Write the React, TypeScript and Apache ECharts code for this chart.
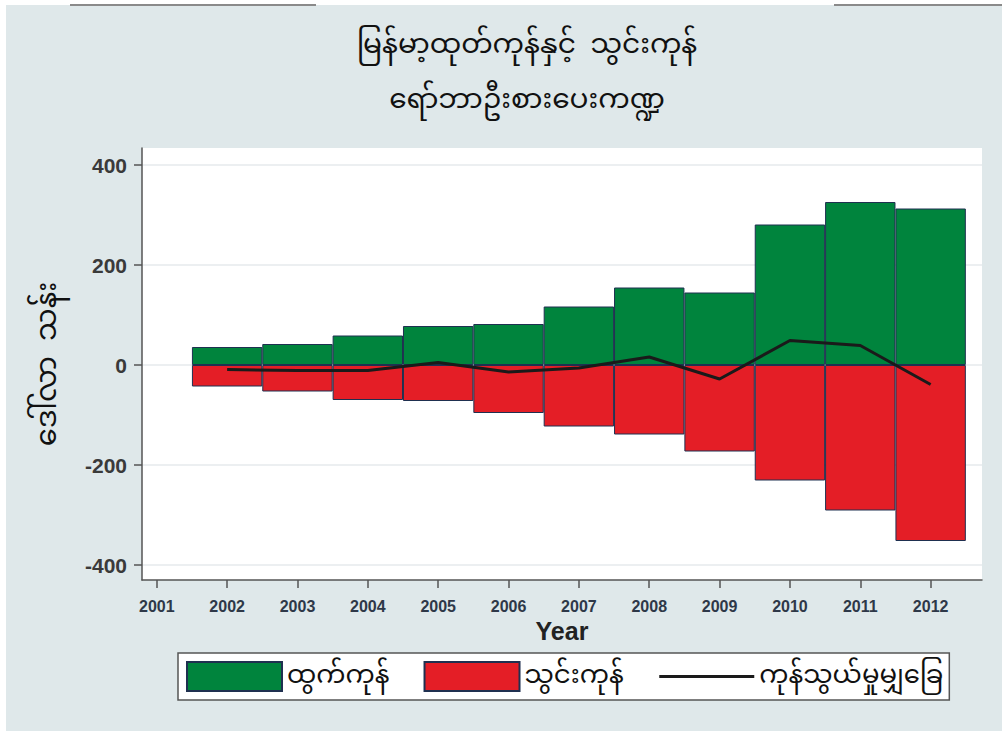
import React, { useEffect, useRef } from "react";
import * as echarts from "echarts";

const years = [2002, 2003, 2004, 2005, 2006, 2007, 2008, 2009, 2010, 2011, 2012];
const exportsVals = [36, 42, 59, 78, 82, 117, 155, 145, 281, 326, 313];
const importsVals = [-43, -53, -70, -72, -96, -123, -139, -173, -231, -291, -352];
const balanceVals = [-9, -11, -11, 5, -14, -6, 16, -28, 49, 39, -39];
const xTicks = [2001, 2002, 2003, 2004, 2005, 2006, 2007, 2008, 2009, 2010, 2011, 2012];
const yTicks = [-400, -200, 0, 200, 400];

const titleLine1 = "မြန်မာ့ထုတ်ကုန်နှင့်  သွင်းကုန်";
const titleLine2 = "ရော်ဘာဦးစားပေးကဏ္ဍ";
const yName = "ဒေါ်လာ  သန်း";
const xName = "Year";
const nameExports = "ထွက်ကုန်";
const nameImports = "သွင်းကုန်";
const nameBalance = "ကုန်သွယ်မှုမျှခြေ";

const MY_FONT = "'Noto Sans Myanmar', 'Padauk', 'Myanmar Text', 'Noto Sans', sans-serif";
const NARROW = "'Liberation Sans Narrow', 'Arial Narrow', 'Liberation Sans', sans-serif";

export default function App() {
  const ref = useRef<HTMLDivElement>(null);
  useEffect(() => {
    if (!ref.current) return;
    const chart = echarts.init(ref.current, null, { renderer: "svg" });
    chart.setOption({
      animation: false,
      backgroundColor: "#ffffff",
      graphic: [
        { type: "rect", shape: { x: 6, y: 5, width: 996, height: 726 }, style: { fill: "#dfe8ea" }, z: -10 },
        { type: "line", shape: { x1: 70, y1: 5, x2: 316, y2: 5 }, style: { stroke: "#8a8a8a", lineWidth: 2 } },
        { type: "line", shape: { x1: 834, y1: 5, x2: 1002, y2: 5 }, style: { stroke: "#8a8a8a", lineWidth: 2 } },
        {
          type: "text", x: 527, y: 46,
          style: { text: titleLine1, fontFamily: MY_FONT, fontSize: 28, lineHeight: 40, fill: "#111", align: "center", verticalAlign: "middle" },
        },
        {
          type: "text", x: 527, y: 101,
          style: { text: titleLine2, fontFamily: MY_FONT, fontSize: 28, lineHeight: 40, fill: "#111", align: "center", verticalAlign: "middle" },
        },
      ],
      grid: { left: 142, top: 148, right: 20, bottom: 151, show: true, backgroundColor: "#ffffff", borderWidth: 0, containLabel: false },
      xAxis: {
        type: "value",
        min: 2000.79,
        max: 2012.73,
        name: xName,
        nameLocation: "middle",
        nameGap: 29,
        nameTextStyle: { fontFamily: NARROW, fontSize: 25, color: "#222", fontWeight: "bold" },
        axisLine: { show: true, onZero: false, lineStyle: { color: "#555", width: 1.5 } },
        axisTick: { show: true, length: 8, lineStyle: { color: "#555", width: 1.5 }, customValues: xTicks },
        axisLabel: { customValues: xTicks, fontFamily: NARROW, fontWeight: "bold", fontSize: 16, color: "#2e3848", margin: 18, formatter: (v: number) => String(v) },
        splitLine: { show: false },
      },
      yAxis: {
        type: "value",
        min: -430,
        max: 434,
        name: yName,
        nameLocation: "middle",
        nameGap: 78,
        nameRotate: 90,
        nameTextStyle: { fontFamily: MY_FONT, fontSize: 29, color: "#111" },
        axisLine: { show: true, onZero: false, lineStyle: { color: "#555", width: 1.5 } },
        axisTick: { show: true, length: 8, lineStyle: { color: "#555", width: 1.5 }, customValues: yTicks },
        axisLabel: { customValues: yTicks, fontFamily: "'Liberation Sans', Arial, sans-serif", fontSize: 21, fontWeight: "bold", color: "#3a3a3a", margin: 15 },
        splitLine: { show: true, lineStyle: { color: "#e6eaec", width: 1.5 } },
      },
      legend: {
        left: 178,
        top: 653,
        orient: "horizontal",
        itemWidth: 95,
        itemHeight: 29,
        itemGap: 34,
        padding: [8, 6, 8, 8],
        borderColor: "#555",
        borderWidth: 1.5,
        backgroundColor: "#ffffff",
        textStyle: { fontFamily: MY_FONT, fontSize: 26, color: "#111" },
        data: [
          { name: nameExports, icon: "rect" },
          { name: nameImports, icon: "rect" },
          { name: nameBalance, itemStyle: { opacity: 0 }, lineStyle: { color: "#1a1a1a", width: 3 } },
        ],
      },
      series: [
        {
          name: nameExports,
          type: "bar",
          stack: "t",
          barWidth: 70.4,
          data: years.map((y, i) => [y, exportsVals[i]]),
          itemStyle: { color: "#00843d", borderColor: "#1f3050", borderWidth: 1 },
        },
        {
          name: nameImports,
          type: "bar",
          stack: "t",
          barWidth: 70.4,
          data: years.map((y, i) => [y, importsVals[i]]),
          itemStyle: { color: "#e41e26", borderColor: "#1f3050", borderWidth: 1 },
        },
        {
          name: nameBalance,
          type: "line",
          symbol: "none",
          z: 5,
          data: years.map((y, i) => [y, balanceVals[i]]),
          lineStyle: { color: "#1a1a1a", width: 3 },
          itemStyle: { color: "#1a1a1a" },
        },
      ],
    });
    return () => chart.dispose();
  }, []);
  return <div ref={ref} style={{ position: "fixed", left: 0, top: 0, width: 1002, height: 731 }} />;
}
